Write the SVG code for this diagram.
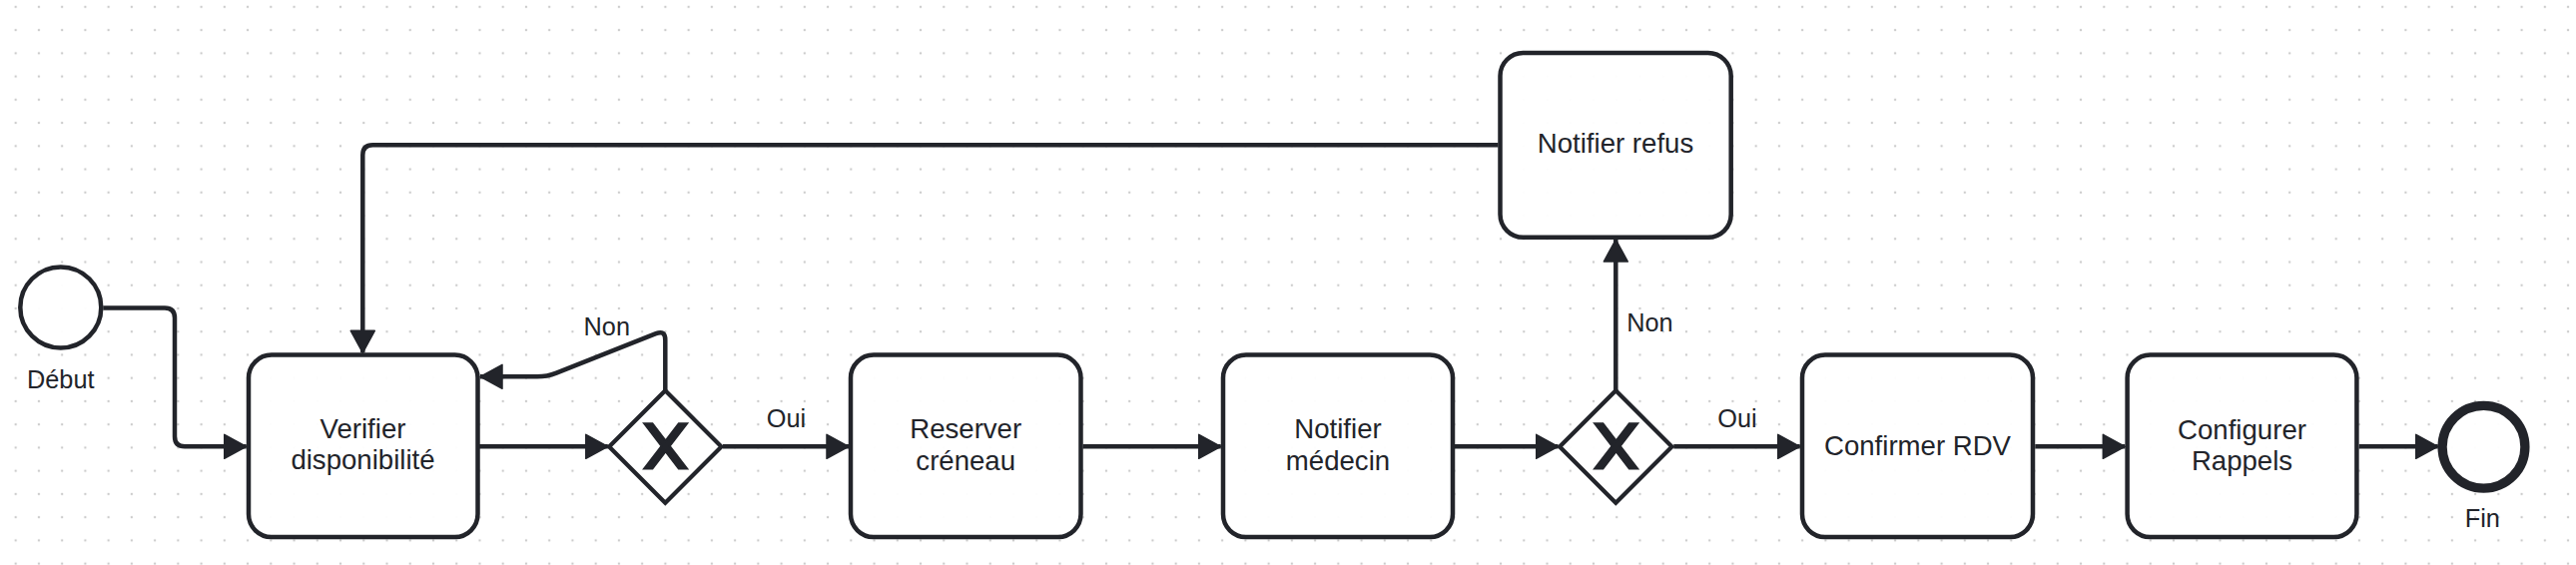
<svg xmlns="http://www.w3.org/2000/svg" width="2580" height="566" viewBox="0 0 2580 566">
  <defs>
    <pattern id="grid" patternUnits="userSpaceOnUse" x="4.05" y="-4.77" width="23.24" height="23.24">
      <circle cx="11.62" cy="11.62" r="1.2" fill="#cccccc"/>
    </pattern>
    <marker id="arrow" markerUnits="userSpaceOnUse" viewBox="0 0 24 26" markerWidth="24" markerHeight="26" refX="23" refY="13" orient="auto">
      <path d="M1,1 L23,13 L1,25 Z" fill="#22242a" stroke="#22242a" stroke-width="1.5" stroke-linejoin="round"/>
    </marker>
    <path id="xmark" d="m 16,15 7.42857,9.71429 -7.42857,9.71429 3.42857,0 5.71429,-7.46423 5.71429,7.46423 3.42857,0 -7.42857,-9.71429 7.42857,-9.71429 -3.42857,0 -5.71429,7.46423 -5.71429,-7.46423 -3.42857,0 z"/>
  </defs>
  <style>
    .task { fill: #ffffff; fill-opacity: 0.95; stroke: #22242a; stroke-width: 4.5; }
    .gw { fill: #ffffff; fill-opacity: 0.95; stroke: #22242a; stroke-width: 4.2; stroke-linejoin: miter; }
    .xm { fill: #22242a; stroke: #22242a; stroke-width: 1; }
    .ev { fill: #ffffff; fill-opacity: 0.95; stroke: #22242a; stroke-width: 4.5; }
    .end { fill: #ffffff; fill-opacity: 0.95; stroke: #22242a; stroke-width: 9.3; }
    .flow { fill: none; stroke: #22242a; stroke-width: 4.5; stroke-linejoin: round; marker-end: url(#arrow); }
    .t { font-family: "Liberation Sans", Arial, sans-serif; font-size: 27.6px; fill: #22242a; text-anchor: middle; }
    .lbl { font-family: "Liberation Sans", Arial, sans-serif; font-size: 25.3px; fill: #22242a; text-anchor: middle; }
  </style>

  <rect x="0" y="0" width="2580" height="566" fill="#ffffff"/>
  <rect x="0" y="0" width="2580" height="566" fill="url(#grid)"/>

  <g id="connectors">
    <path class="flow" d="M103.3,308.5 L165,308.5 Q175,308.5 175,318.5 L175,437.3 Q175,447.3 185,447.3 L246.7,447.3"/>
    <path class="flow" d="M480,447.3 L608.8,447.3"/>
    <path class="flow" d="M724,447.3 L850,447.3"/>
    <text class="lbl" x="787.5" y="428">Oui</text>
    <path class="flow" d="M666.3,391 L666.3,340.5 Q666.3,330.5 657,334.2 L557.3,373.6 Q548,377.3 538,377.3 L481,377.3"/>
    <text class="lbl" x="607.8" y="335.5">Non</text>
    <path class="flow" d="M1084.6,447.3 L1222.7,447.3"/>
    <path class="flow" d="M1457,447.3 L1560.5,447.3"/>
    <path class="flow" d="M1676.3,447.3 L1802.7,447.3"/>
    <text class="lbl" x="1740" y="428">Oui</text>
    <path class="flow" d="M1618.3,391 L1618.3,240"/>
    <text class="lbl" x="1652.5" y="331.5">Non</text>
    <path class="flow" d="M1500.5,145.3 L373.3,145.3 Q363.3,145.3 363.3,155.3 L363.3,353.3"/>
    <path class="flow" d="M2038.3,447.3 L2128.3,447.3"/>
    <path class="flow" d="M2362.7,447.3 L2441.7,447.3"/>
  </g>

  <g id="start">
    <circle class="ev" cx="60.8" cy="307.9" r="40.5"/>
    <text class="lbl" x="60.8" y="389">Début</text>
  </g>

  <g id="verifier">
    <rect class="task" x="249" y="355.6" width="229.5" height="182.5" rx="23" ry="23"/>
    <text class="t" x="363.5" y="439.3">Verifier</text>
    <text class="t" x="363.5" y="470">disponibilité</text>
  </g>

  <g id="gateway1">
    <path class="gw" d="M666.3,391.3 L722.5,447.5 L666.3,503.7 L610.1,447.5 Z"/>
    <use href="#xmark" class="xm" transform="translate(608.3,389.5) scale(2.32)"/>
  </g>

  <g id="reserver">
    <rect class="task" x="852" y="355.6" width="230.5" height="182.5" rx="23" ry="23"/>
    <text class="t" x="967.2" y="439.3">Reserver</text>
    <text class="t" x="967.2" y="470.5">créneau</text>
  </g>

  <g id="notifier-medecin">
    <rect class="task" x="1225" y="355.6" width="230" height="182.5" rx="23" ry="23"/>
    <text class="t" x="1340" y="439.3">Notifier</text>
    <text class="t" x="1340" y="470.5">médecin</text>
  </g>

  <g id="gateway2">
    <path class="gw" d="M1618.3,391.3 L1674.5,447.5 L1618.3,503.7 L1562.1,447.5 Z"/>
    <use href="#xmark" class="xm" transform="translate(1560.3,389.5) scale(2.32)"/>
  </g>

  <g id="notifier-refus">
    <rect class="task" x="1502.5" y="53" width="231.2" height="184.8" rx="23" ry="23"/>
    <text class="t" x="1618" y="153.3">Notifier refus</text>
  </g>

  <g id="confirmer">
    <rect class="task" x="1805" y="355.6" width="231" height="182.5" rx="23" ry="23"/>
    <text class="t" x="1920.5" y="455.7">Confirmer RDV</text>
  </g>

  <g id="configurer">
    <rect class="task" x="2130.6" y="355.6" width="229.8" height="182.5" rx="23" ry="23"/>
    <text class="t" x="2245.5" y="440">Configurer</text>
    <text class="t" x="2245.5" y="471">Rappels</text>
  </g>

  <g id="end">
    <circle class="end" cx="2487.5" cy="447.8" r="41.4"/>
    <text class="lbl" x="2486.3" y="528">Fin</text>
  </g>
</svg>
